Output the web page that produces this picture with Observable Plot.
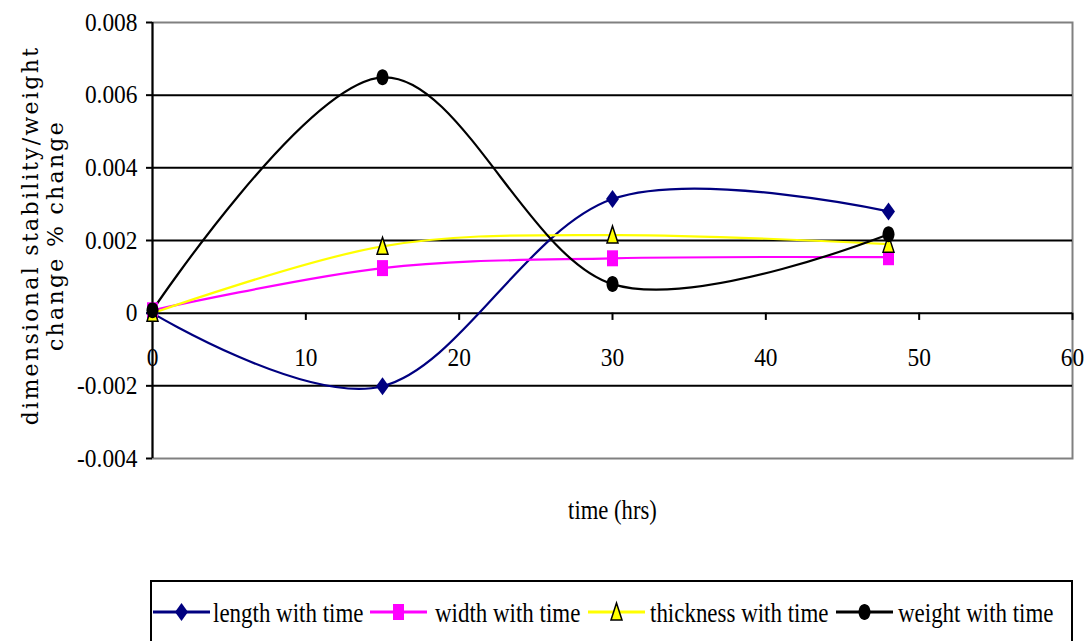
<!DOCTYPE html>
<html>
<head>
<meta charset="utf-8">
<script src="https://cdn.jsdelivr.net/npm/d3@7"></script>
<script src="https://cdn.jsdelivr.net/npm/@observablehq/plot@0.6"></script>
<style>
  html, body { margin: 0; padding: 0; background: #fff; }
  #wrap { position: relative; width: 1084px; height: 641px; overflow: hidden; font-family: "Liberation Serif", "Times New Roman", serif; }
  #legend { position: absolute; left: 150px; top: 580px; }
</style>
</head>
<body>
<div id="wrap"><div id="chart"></div><div id="legend"></div></div>
<script>
// ---- data ----
const hours = [0, 15, 30, 48];
const lengthChange = [0, -0.00201, 0.00314, 0.0028];
const widthChange = [0.00008, 0.00124, 0.00151, 0.00154];
const thicknessChange = [0, 0.00184, 0.00215, 0.0019];
const weightChange = [0.00008, 0.00649, 0.0008, 0.00217];
const seriesNames = ["length with time", "width with time", "thickness with time", "weight with time"];
const xTicks = [0, 10, 20, 30, 40, 50, 60];
const yTicks = [-0.004, -0.002, 0, 0.002, 0.004, 0.006, 0.008];
const yLabel = "dimensional stability/weight\nchange % change";
const xLabel = "time (hrs)";

// ---- styling ----
const colors = ["#000080", "#FF00FF", "#FFFF00", "#000000"];
const strokes = ["none", "none", "#000000", "none"];

function ellipse(ctx, rx, ry) {
  const k = 0.5523;
  ctx.moveTo(rx, 0);
  ctx.bezierCurveTo(rx, ry * k, rx * k, ry, 0, ry);
  ctx.bezierCurveTo(-rx * k, ry, -rx, ry * k, -rx, 0);
  ctx.bezierCurveTo(-rx, -ry * k, -rx * k, -ry, 0, -ry);
  ctx.bezierCurveTo(rx * k, -ry, rx, -ry * k, rx, 0);
  ctx.closePath();
}
const symbols = [
  { draw(ctx) { ctx.moveTo(0, -9); ctx.lineTo(6.5, 0); ctx.lineTo(0, 9); ctx.lineTo(-6.5, 0); ctx.closePath(); } },
  { draw(ctx) { ctx.moveTo(-5.5, -8); ctx.lineTo(5.5, -8); ctx.lineTo(5.5, 8); ctx.lineTo(-5.5, 8); ctx.closePath(); } },
  { draw(ctx) { ctx.moveTo(0, -9); ctx.lineTo(5.5, 8); ctx.lineTo(-5.5, 8); ctx.closePath(); } },
  { draw(ctx) { ellipse(ctx, 6, 8); } }
];

const values = [lengthChange, widthChange, thicknessChange, weightChange];
const rows = [];
seriesNames.forEach((s, i) => hours.forEach((h, j) => rows.push({ series: s, idx: i, hour: h, value: values[i][j] })));

const marks = [
  Plot.frame({ stroke: "#808080", strokeWidth: 2 }),
  Plot.ruleY(yTicks.filter(d => d > -0.004 && d < 0.008), { y: d => d, stroke: "#000", strokeWidth: 2 }),
  Plot.ruleX([0], { stroke: "#000", strokeWidth: 2 }),
  Plot.axisY(yTicks, { tickSize: 6, tickPadding: 9, stroke: "#000", strokeWidth: 2, fontSize: 26, fill: "#000",
    tickFormat: d => d === 0 ? "0" : d.toFixed(3).replace("\u2212", "-"), label: null }),
  Plot.ruleX(xTicks, { x: d => d, y1: 0, y2: -0.0002, stroke: "#000", strokeWidth: 2 }),
  Plot.text(xTicks, { x: d => d, y: 0, dy: 45, text: d => String(d), fontSize: 26, fill: "#000" }),
  Plot.text([xLabel], { frameAnchor: "bottom", dy: 60, text: d => d, fontSize: 27, fill: "#000" }),
  Plot.text([yLabel], { frameAnchor: "left", textAnchor: "middle", dx: -110, dy: -5, rotate: -90, text: d => d,
    fontFamily: "'DejaVu Serif', serif", fontSize: 22, lineHeight: 1.15, fill: "#000" })
];
seriesNames.forEach((s, i) => {
  const data = rows.filter(r => r.idx === i);
  marks.push(Plot.line(data, { x: "hour", y: "value", curve: "cardinal", stroke: colors[i], strokeWidth: 2.2 }));
});
seriesNames.forEach((s, i) => {
  const data = rows.filter(r => r.idx === i);
  marks.push(Plot.dot(data, { x: "hour", y: "value", symbol: () => symbols[i], fill: colors[i], stroke: strokes[i], strokeWidth: 1.5, r: 6 }));
});

const plot = Plot.plot({
  width: 1084,
  height: 560,
  marginLeft: 152,
  marginRight: 12,
  marginTop: 22,
  marginBottom: 102,
  style: { fontFamily: "'Liberation Serif', 'Times New Roman', serif", background: "#fff", color: "#000" },
  x: { domain: [0, 60], axis: null },
  y: { domain: [-0.004, 0.008], axis: null },
  symbol: { type: "identity" },
  marks
});
document.getElementById("chart").appendChild(plot);

// condensed serif look of the original
function condense(el, s) {
  const t = el.getAttribute("transform");
  if (t) el.setAttribute("transform", t + ` scale(${s},1)`);
  else {
    const x = el.getAttribute("x") || 0, y = el.getAttribute("y") || 0;
    el.removeAttribute("x"); el.removeAttribute("y");
    el.setAttribute("transform", `translate(${x},${y}) scale(${s},1)`);
  }
}
d3.select(plot).selectAll("text").each(function () {
  const txt = this.textContent;
  if (txt.includes("dimensional")) { this.setAttribute("letter-spacing", "2.3px"); return; }
  if (txt === xLabel) condense(this, 0.84);
  else condense(this, 0.9);
});

// ---- legend ----
const lineX = [3, 220, 438, 686];
const textX = [63, 285, 500, 748];
const lg = d3.select("#legend").append("svg").attr("width", 924).attr("height", 62);
lg.append("rect").attr("x", 1).attr("y", 1).attr("width", 921).attr("height", 80).attr("fill", "#fff").attr("stroke", "#000").attr("stroke-width", 2);
const symbolPaths = symbols.map(sym => { const p = d3.path(); sym.draw(p, 0); return p.toString(); });
seriesNames.forEach((s, i) => {
  lg.append("line").attr("x1", lineX[i]).attr("x2", lineX[i] + 57).attr("y1", 32).attr("y2", 32)
    .attr("stroke", colors[i]).attr("stroke-width", 3);
  lg.append("path").attr("transform", `translate(${lineX[i] + 28.5},32)`).attr("d", symbolPaths[i])
    .attr("fill", colors[i]).attr("stroke", strokes[i]).attr("stroke-width", 1.5);
  lg.append("text").attr("transform", `translate(${textX[i]},42) scale(0.82,1)`)
    .attr("font-family", "'Liberation Serif', 'Times New Roman', serif").attr("font-size", 28).attr("fill", "#000").text(s);
});
</script>
</body>
</html>
